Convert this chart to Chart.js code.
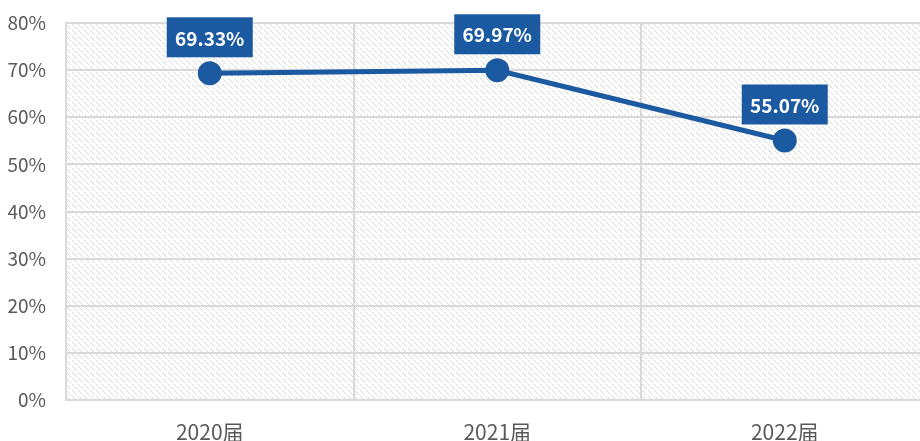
<!DOCTYPE html>
<html>
<head>
<meta charset="utf-8">
<script src="https://cdn.jsdelivr.net/npm/chart.js@4/dist/chart.umd.min.js"></script>
<style>
html,body{margin:0;padding:0;background:#fff;overflow:hidden;}
</style>
</head>
<body>
<canvas id="grafik-rate" width="943" height="441"></canvas>
<script>
const years = ['2020届', '2021届', '2022届'];
const rates = [69.33, 69.97, 55.07];
const yTicks = [0, 10, 20, 30, 40, 50, 60, 70, 80];

const blue = '#1B5AA0';
const fontFam = "'Noto Sans CJK SC', 'Noto Sans', sans-serif";

// diagonal hatch tile for the plot background
makeHatch = (ctx) => {
	const c = document.createElement('canvas');
	c.width = 6; c.height = 6;
	const g = c.getContext('2d');
	g.fillStyle = '#fff';
	g.fillRect(0, 0, 6, 6);
	g.fillStyle = '#d9d9d9';
	for (let i = 0; i < 6; i++) {
		if (i === 5) continue;
		g.fillRect(i, i, 1, 1);
	}
	return ctx.createPattern(c, 'repeat');
}

const hatchPlugin = {
	id: 'hatch',
	beforeDraw(chart) {
		const a = chart.chartArea, ctx = chart.ctx;
		ctx.save();
		ctx.fillStyle = makeHatch(ctx);
		ctx.fillRect(a.left, a.top, a.right - a.left, a.bottom - a.top);
		ctx.restore();
	}
};

// value boxes above each point
const boxPlugin = {
	id: 'boxes',
	afterDatasetsDraw(chart) {
		const ctx = chart.ctx;
		const meta = chart.getDatasetMeta(0);
		ctx.save();
		ctx.font = "bold 19px " + fontFam;
		ctx.textAlign = 'center';
		ctx.textBaseline = 'middle';
		meta.data.forEach((pt, i) => {
			const txt = rates[i].toFixed(2) + '%';
			const w = 86, h = 40;
			const x = pt.x, y = pt.y - 16 - h / 2;
			ctx.fillStyle = blue;
			ctx.fillRect(x - w / 2, y - h / 2, w, h);
			ctx.fillStyle = '#fff';
			ctx.fillText(txt, x, y + 1);
		});
		ctx.restore();
	}
};

make_chart = () => {
	const ctx = document.getElementById('grafik-rate');
	new Chart(ctx, {
		type: 'line',
		data: {
			labels: years,
			datasets: [{
				data: rates,
				borderColor: blue,
				backgroundColor: blue,
				borderWidth: 5,
				pointRadius: 9.5,
				pointHoverRadius: 9.5,
				pointBackgroundColor: blue,
				tension: 0
			}]
		},
		options: {
			responsive: false,
			animation: false,
			layout: { padding: { top: 23, right: 0, left: 0, bottom: 0 } },
			plugins: { legend: { display: false }, tooltip: { enabled: false } },
			scales: {
				x: {
					offset: true,
					grid: { offset: true, color: '#d9d9d9', lineWidth: 2, drawTicks: false },
					border: { color: '#d9d9d9', width: 2 },
					ticks: { color: '#595959', font: { size: 21, family: fontFam }, padding: 19 },
					afterFit: (s) => { s.height = 41; s.paddingLeft = 0; s.paddingRight = 0; }
				},
				y: {
					min: 0, max: 80,
					afterBuildTicks: (s) => { s.ticks = yTicks.map(v => ({ value: v })); },
					grid: { color: '#d9d9d9', lineWidth: 2, drawTicks: false },
					border: { color: '#d9d9d9', width: 2 },
					ticks: {
						color: '#595959', font: { size: 19, family: fontFam }, padding: 20,
						callback: (v) => v + '%'
					},
					afterFit: (s) => { s.width = 66; s.paddingTop = 0; s.paddingBottom = 0; }
				}
			}
		},
		plugins: [hatchPlugin, boxPlugin]
	});
}
make_chart();
</script>
</body>
</html>
